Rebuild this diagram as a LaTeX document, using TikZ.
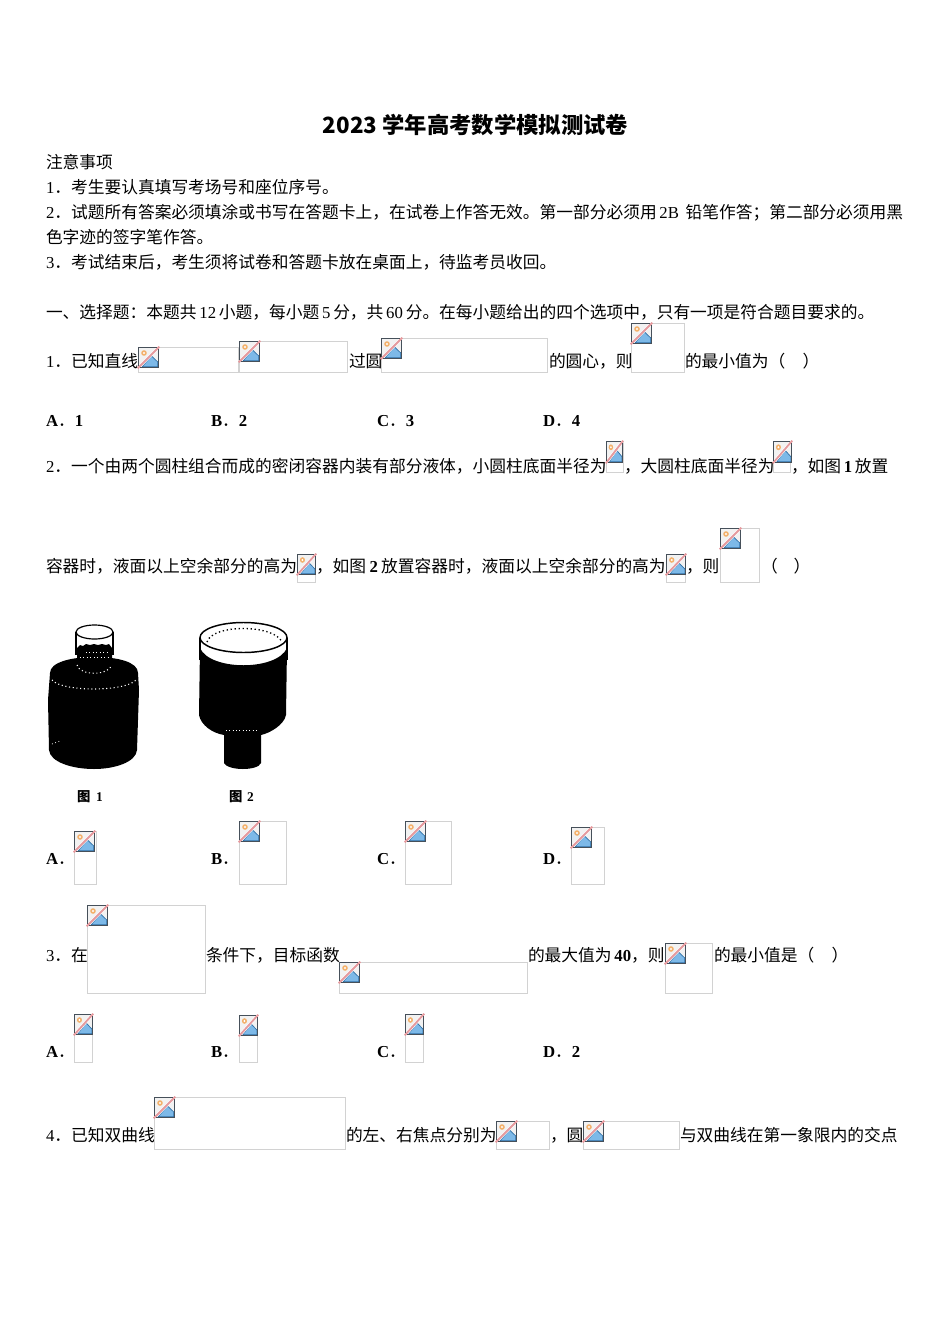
\documentclass[tikz,border=0pt]{standalone}
\usepackage{fontspec}
\setmainfont{Noto Sans CJK SC}
\newfontfamily\lat{Liberation Serif}
\newcommand{\Nm}[1]{{\lat #1}}
\newcommand{\Bd}[1]{{\lat\bfseries #1}}
\newcounter{tn}
\definecolor{phline}{HTML}{D2D2D2}
\definecolor{icedge}{HTML}{46505A}
\definecolor{icblue}{HTML}{7DB9E8}
\definecolor{icdark}{HTML}{2F6FA5}
\definecolor{icsun}{HTML}{F3B06A}
\definecolor{icred}{HTML}{E59A9E}
\tikzset{
  txt/.style={anchor=base west,inner sep=0pt,outer sep=0pt,font=\fontsize{12.55pt}{14pt}\selectfont,text=black},
  ttl/.style={anchor=center,inner sep=0pt,outer sep=0pt,font=\fontsize{16.75pt}{20pt}\selectfont\bfseries,text=black},
  figlab/.style={anchor=base west,inner sep=0pt,outer sep=0pt,font=\fontsize{10pt}{12pt}\selectfont\bfseries,text=black},
  phbox/.style={draw=phline,line width=0.75pt},
}
% text run: x, baseline y, content
\newcommand{\Tx}[3]{\stepcounter{tn}\node[txt,name=t\arabic{tn}] at (#1,#2+1.4) {#3};}
% placeholder: x0,y0,x1,y1, icon width, icon height
\newcommand{\Ph}[6]{%
  \draw[phbox] (#1,#2) rectangle (#3-0.5,#4-0.5);
  \begin{scope}[shift={(#1+0.5,#2+0.5)},x=#5*0.0375pt,y=-#6*0.0375pt]
    \fill[white!95!black] (0,0) rectangle (20,20);
    \fill[icsun] (5.5,5.5) circle[x radius=2.8,y radius=2.8];
    \fill[white] (5.5,5.5) circle[x radius=1.1,y radius=1.1];
    \fill[icblue,draw=icdark,line width=0.5pt,line join=round] (3.5,19.3) -- (13,8.5) -- (19.3,14.5) -- (19.3,19.3) -- cycle;
    \draw[white,line width=2.3pt] (0,20) -- (20,0);
    \draw[icred,line width=1.4pt] (-0.8,20.8) -- (20.8,-0.8);
    \draw[icedge,line width=1.05pt] (0,18.5) -- (0,0) -- (18.5,0);
    \draw[icedge,line width=1.05pt] (20,1.5) -- (20,20) -- (1.5,20);
  \end{scope}}
\begin{document}
\begin{tikzpicture}[x=0.75pt,y=-0.75pt]
\useasboundingbox (0,0) rectangle (950,1344);
\fill[white] (0,0) rectangle (950,1344);
\node[ttl,name=title] at (475.5,125.2) {2023 学年高考数学模拟测试卷};

\Tx{46}{167}{注意事项}
\Tx{46}{192}{\Nm{1}．考生要认真填写考场号和座位序号。}
\Tx{46}{217}{\Nm{2}．试题所有答案必须填涂或书写在答题卡上，在试卷上作答无效。第一部分必须用\hspace{2pt}\Nm{2B}\hspace{5pt}铅笔作答；第二部分必须用黑}
\Tx{46}{242}{色字迹的签字笔作答。}
\Tx{46}{267}{\Nm{3}．考试结束后，考生须将试卷和答题卡放在桌面上，待监考员收回。}
\Tx{46}{317}{一、选择题：本题共\,\Nm{12}\,小题，每小题\,\Nm{5}\,分，共\,\Nm{60}\,分。在每小题给出的四个选项中，只有一项是符合题目要求的。}

% Q1
\Tx{46}{366}{\Nm{1}．已知直线}
\Ph{138}{347}{239}{373}{20}{20}
\Ph{239}{341}{348}{373}{20}{20}
\Tx{349}{366}{过圆}
\Ph{381}{338}{548}{373}{20}{20}
\Tx{549}{366}{的圆心，则}
\Ph{631}{323}{685}{373}{20}{20}
\Tx{685}{366}{的最小值为（\hspace{13pt}）}
\Tx{46}{425}{\Bd{A}．\Bd{1}}
\Tx{211}{425}{\Bd{B}．\Bd{2}}
\Tx{377}{425}{\Bd{C}．\Bd{3}}
\Tx{543}{425}{\Bd{D}．\Bd{4}}

% Q2
\Tx{46}{471}{\Nm{2}．一个由两个圆柱组合而成的密闭容器内装有部分液体，小圆柱底面半径为}
\Ph{606}{441}{624}{473}{16}{21}
\Tx{624}{471}{，大圆柱底面半径为}
\Ph{773}{441}{791}{473}{18}{21}
\Tx{791}{471}{，如图\hspace{2pt}\Bd{1}\hspace{2pt}放置}
\Tx{46}{571}{容器时，液面以上空余部分的高为}
\Ph{297}{554}{316}{583}{18}{20}
\Tx{316}{571}{，如图\hspace{2.5pt}\Bd{2}\hspace{2.5pt}放置容器时，液面以上空余部分的高为}
\Ph{666}{554}{686}{583}{19}{20}
\Tx{686}{571}{，则}
\Ph{720}{528}{760}{583}{20}{20}
\Tx{761}{571}{（\hspace{12pt}）}

% Figure 1
\fill[black] (50,673) .. controls (50,662) and (72,657) .. (94,657) .. controls (118,657) and (138,662) .. (138,673)
  -- (139,690) -- (137,750) .. controls (136,762) and (115,769) .. (94,769) .. controls (72,769) and (50,762) .. (49,750) -- (48,700) -- cycle;
\fill[black] (77,648) -- (80,645) -- (83,646) -- (86,644) -- (90,645) -- (94,644) -- (98,645) -- (102,644) -- (106,645) -- (109,644) -- (112,648) -- (112,665) -- (77,665) -- cycle;
\draw[black,line width=0.9pt] (94.5,632) ellipse[x radius=18.5,y radius=7];
\draw[black,line width=0.9pt] (76,632) -- (76,655);
\draw[black,line width=0.9pt] (113,632) -- (113,655);
\draw[white,line width=0.8pt,dotted] (77,665) .. controls (80,676) and (108,676) .. (112,665);
\draw[white,line width=0.8pt,dotted] (52,680) .. controls (62,692) and (125,692) .. (136,680);
\draw[white,line width=0.6pt,dotted] (86,652) -- (110,652);
\draw[white,line width=0.6pt,dotted] (80,657) -- (108,657);
\draw[white,line width=0.6pt,dotted] (52,744) -- (60,741);
% Figure 2
\fill[black] (200,648) .. controls (210,671) and (277,671) .. (287,648) -- (286,715)
  .. controls (284,725) and (270,733) .. (261,735) -- (261,763) .. controls (258,771) and (228,771) .. (224,763)
  -- (224,735) .. controls (212,733) and (201,725) .. (199,715) -- cycle;
\draw[black,line width=1.1pt] (243.5,637.5) ellipse[x radius=43.5,y radius=15];
\draw[black,line width=1pt] (200,637.5) -- (200,660);
\draw[black,line width=1pt] (287,637.5) -- (287,660);
\draw[black,line width=1pt,dotted] (207,642) .. controls (212,624) and (274,624) .. (282,642);
\draw[white,line width=0.5pt,dotted] (226,730) -- (258,730);
\node[figlab,name=f1a] at (77,801) {图};
\node[figlab,name=f1b] at (96,801) {\Bd{1}};
\node[figlab,name=f2a] at (229,801) {图};
\node[figlab,name=f2b] at (247,801) {\Bd{2}};

% options
\Tx{46}{863}{\Bd{A}．}
\Ph{74}{831}{97}{885}{20}{20}
\Tx{211}{863}{\Bd{B}．}
\Ph{239}{821}{287}{885}{20}{20}
\Tx{377}{863}{\Bd{C}．}
\Ph{405}{821}{452}{885}{20}{20}
\Tx{543}{863}{\Bd{D}．}
\Ph{571}{827}{605}{885}{20}{20}

% Q3
\Tx{46}{960.5}{\Nm{3}．在}
\Ph{87}{905}{206}{994}{20}{20}
\Tx{206}{960.5}{条件下，目标函数}
\Ph{339}{962}{528}{994}{20}{20}
\Tx{528}{960.5}{的最大值为\,\Bd{40}，则}
\Ph{665}{943}{713}{994}{20}{20}
\Tx{714}{960.5}{的最小值是（\hspace{13pt}）}
\Tx{46}{1056}{\Bd{A}．}
\Ph{74}{1014}{93}{1063}{18}{20}
\Tx{211}{1056}{\Bd{B}．}
\Ph{239}{1015}{258}{1063}{18}{20}
\Tx{377}{1056}{\Bd{C}．}
\Ph{405}{1014}{424}{1063}{18}{20}
\Tx{543}{1056}{\Bd{D}．\Bd{2}}

% Q4
\Tx{46}{1140.5}{\Nm{4}．已知双曲线}
\Ph{154}{1097}{346}{1150}{20}{20}
\Tx{346}{1140.5}{的左、右焦点分别为}
\Ph{496}{1121}{550}{1150}{20}{20}
\Tx{550}{1140.5}{，圆}
\Ph{583}{1121}{680}{1150}{20}{20}
\Tx{680}{1140.5}{与双曲线在第一象限内的交点}
\end{tikzpicture}
\end{document}
